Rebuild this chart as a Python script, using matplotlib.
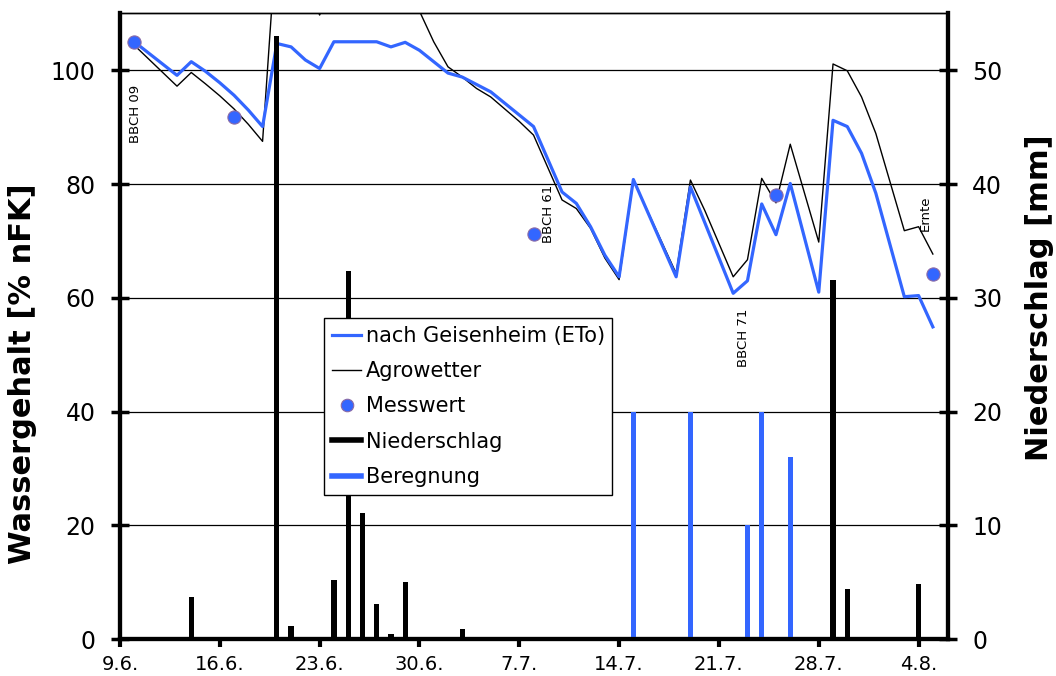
import numpy as np
import matplotlib
matplotlib.use("Agg")
import matplotlib.pyplot as plt
from matplotlib.lines import Line2D

# Tage ab 9.6.
tick_days = [0, 7, 14, 21, 28, 35, 42, 49, 56]
tick_labels = ["9.6.", "16.6.", "23.6.", "30.6.", "7.7.", "14.7.", "21.7.", "28.7.", "4.8."]

# Wassergehalt nach Geisenheim (ETo)
geis_days = [1, 4, 5, 6, 7, 8, 9, 10, 11, 12, 13, 14, 15, 18, 19, 20, 21, 23, 24, 26, 29,
             31, 32, 33, 34, 35, 36, 39, 40, 43, 44, 45, 46, 47, 49, 50, 51, 52, 53, 55, 56, 57]
geis_vals = [105.0, 99.1, 101.5, 99.8, 97.8, 95.6, 93.0, 90.1, 104.7, 104.1, 101.8, 100.3, 105.0,
             105.0, 104.1, 104.9, 103.5, 99.5, 98.8, 96.2, 90.1,
             78.6, 76.6, 72.5, 67.5, 63.7, 80.8, 63.7, 79.5, 60.8, 63.0, 76.5, 71.1, 80.1,
             61.0, 91.2, 90.1, 85.4, 78.4, 60.2, 60.4, 54.9]

# Wassergehalt Agrowetter
agro_days = [1, 4, 5, 6, 7, 8, 9, 10, 11, 12, 13, 14, 15, 16, 17, 18, 19, 20, 21, 22, 23, 24,
             25, 26, 28, 29, 31, 32, 33, 34, 35, 36, 39, 40, 41, 43, 44, 45, 46, 47, 49,
             50, 51, 52, 53, 55, 56, 57]
agro_vals = [104.4, 97.2, 99.6, 97.6, 95.5, 93.2, 90.5, 87.5, 124.0, 121.0, 116.0, 109.7, 116.0,
             118.0, 118.0, 118.0, 116.0, 116.0, 110.4, 105.0, 100.6, 98.8,
             96.8, 95.3, 91.0, 88.6, 77.2, 75.7, 72.2, 67.0, 63.2, 80.7, 64.3, 80.7, 75.4,
             63.7, 66.7, 81.0, 76.7, 87.0, 69.8, 101.1, 99.9, 95.3, 88.9, 71.8, 72.5, 67.7]

# Messwerte
mess_days = [1, 8, 29, 46, 57]
mess_vals = [104.9, 91.7, 71.2, 78.1, 64.2]

# Niederschlag [mm]
rain_days = [5, 11, 12, 15, 16, 17, 18, 19, 20, 24, 46, 50, 51, 56]
rain_vals = [3.75, 53.0, 1.17, 5.18, 32.4, 11.1, 3.07, 0.44, 5.06, 0.88, 0.23, 31.6, 4.44, 4.82]

# Beregnung [mm]
irr_days = [36, 40, 44, 45, 47]
irr_vals = [20, 20, 10, 20, 16]

# BBCH-Stadien / Ernte
notes = ["BBCH 09", "BBCH 61", "BBCH 71", "Ernte"]
note_days = [1.12, 30.03, 43.7, 56.5]
note_vals = [92.3, 74.7, 53.0, 74.8]

blue = "#3366FF"

fig = plt.figure(figsize=(10.56, 6.76), dpi=100)
ax1 = fig.add_axes([0.1136, 0.0543, 0.8977 - 0.1136, 0.9803 - 0.0543])
ax2 = ax1.twinx()

ax1.plot(agro_days, agro_vals, color="black", lw=1.0, zorder=3)
ax1.plot(geis_days, geis_vals, color=blue, lw=2.3, zorder=4)
ax1.plot(mess_days, mess_vals, "o", color=blue, ms=9.5, mec="#8a6aa6", mew=0.8, zorder=5)

for t, d, v in zip(notes, note_days, note_vals):
    ax1.text(d, v, t, rotation=90, ha="center", va="center", fontsize=9.5)

ax2.bar(rain_days, rain_vals, width=0.37, color="black", zorder=2)
ax2.bar(irr_days, irr_vals, width=0.37, color=blue, zorder=2)

ax1.set_xlim(0, 58.06)
ax1.set_ylim(0, 110)
ax2.set_ylim(0, 55)
ax1.set_yticks(np.arange(0, 101, 20))
ax2.set_yticks(np.arange(0, 51, 10))
ax1.set_xticks(tick_days)
ax1.set_xticklabels(tick_labels)

ax1.yaxis.grid(True, color="black", lw=0.9)
ax1.set_axisbelow(True)

for a in (ax1, ax2):
    for s in ("left", "right", "bottom"):
        a.spines[s].set_linewidth(3)
    a.spines["top"].set_linewidth(1)

ax1.tick_params(axis="y", direction="inout", length=13, width=2.5, labelsize=17, pad=11)
ax2.tick_params(axis="y", direction="inout", length=13, width=2.5, labelsize=17, pad=11)
ax1.tick_params(axis="x", direction="out", length=6, width=3, labelsize=14, pad=5)

ax1.set_ylabel("Wassergehalt [% nFK]", fontsize=22, fontweight="bold")
ax1.yaxis.set_label_coords(-0.100, 0.425)
ax2.set_ylabel("Niederschlag [mm]", fontsize=22, fontweight="bold")
ax2.yaxis.set_label_coords(1.093, 0.545)

handles = [
    Line2D([], [], color=blue, lw=2.3),
    Line2D([], [], color="black", lw=1.0),
    Line2D([], [], ls="none", marker="o", color=blue, ms=9, mec="#8a6aa6", mew=0.8),
    Line2D([], [], color="black", lw=4),
    Line2D([], [], color=blue, lw=4),
]
labels = ["nach Geisenheim (ETo)", "Agrowetter", "Messwert", "Niederschlag", "Beregnung"]
leg = ax2.legend(handles, labels, loc="lower left", bbox_to_anchor=(0.2470, 0.2313),
                 borderaxespad=0, fontsize=15, frameon=True, fancybox=False,
                 handlelength=1.4, handletextpad=0.2, labelspacing=0.73, borderpad=0.37)
leg.get_frame().set_edgecolor("black")
leg.get_frame().set_linewidth(1.0)
leg.get_frame().set_alpha(1)
leg.set_zorder(10)

plt.savefig("out.png", dpi=100)
